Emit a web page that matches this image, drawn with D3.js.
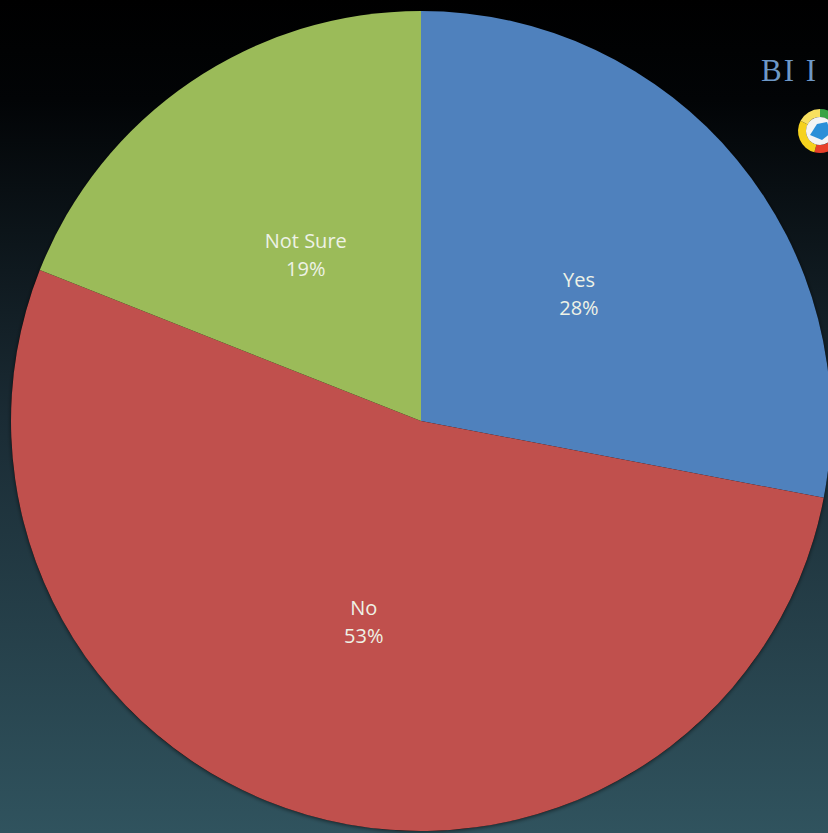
<!DOCTYPE html>
<html>
<head>
<meta charset="utf-8">
<script src="https://cdn.jsdelivr.net/npm/d3@7"></script>
<style>
  html, body { margin: 0; padding: 0; background: #000; overflow: hidden; }
  #vis svg { display: block; }
</style>
</head>
<body>
<div id="vis"></div>
<script>
// survey answers
const categories = ['Yes', 'No', 'Not Sure']
const shares = [28, 53, 19]
const sliceColors = ['#4f81bd', '#c0504d', '#9bbb59']

const width = 828
const height = 833
const cx = 421, cy = 421
const radius = 410

let svg = d3.select('#vis')
    .append('svg')
    .attr('width', width)
    .attr('height', height)

let defs = svg.append('defs')

// dark backdrop fading from black into teal
let bg = defs.append('linearGradient')
    .attr('id', 'bg')
    .attr('x1', 0).attr('y1', 0)
    .attr('x2', 0).attr('y2', 1)
bg.append('stop').attr('offset', '0%').attr('stop-color', '#000000')
bg.append('stop').attr('offset', '12%').attr('stop-color', '#020406')
bg.append('stop').attr('offset', '50%').attr('stop-color', '#1a2b34')
bg.append('stop').attr('offset', '100%').attr('stop-color', '#30535e')

let shadow = defs.append('filter')
    .attr('id', 'shadow')
    .attr('x', '-10%').attr('y', '-10%')
    .attr('width', '120%').attr('height', '120%')
shadow.append('feDropShadow')
    .attr('dx', 0).attr('dy', 1)
    .attr('stdDeviation', 2)
    .attr('flood-color', '#000')
    .attr('flood-opacity', 0.6)

svg.append('rect')
    .attr('width', width)
    .attr('height', height)
    .attr('fill', 'url(#bg)')

// header text in the corner
svg.append('text')
    .attr('x', 761)
    .attr('y', 81)
    .attr('font-family', 'Liberation Serif, serif')
    .attr('font-size', 31)
    .attr('fill', '#6d98c6')
    .attr('letter-spacing', 2)
    .text('BI I')

// little logo ring
let logo = svg.append('g').attr('transform', 'translate(820,131)')
let ringArc = d3.arc().innerRadius(14).outerRadius(22)
const ringParts = [
    { a0: 0, a1: 0.6, c: '#3aa346' },
    { a0: 0.6, a1: 2.2, c: '#f0a020' },
    { a0: 2.2, a1: 3.4, c: '#e8402a' },
    { a0: 3.4, a1: 5.2, c: '#f6d21e' },
    { a0: 5.2, a1: 2 * Math.PI, c: '#f8e060' }
]
logo.selectAll('path.ring')
    .data(ringParts)
    .enter()
    .append('path')
    .attr('class', 'ring')
    .attr('d', d => ringArc({ startAngle: d.a0, endAngle: d.a1 }))
    .attr('fill', d => d.c)
logo.append('circle').attr('r', 14).attr('fill', '#f4f4f4')
logo.append('path')
    .attr('d', 'M-10,4 L-3,-7 L7,-9 L11,2 L2,9 Z')
    .attr('fill', '#2a8fd8')

// the pie itself
let data = categories.map((c, i) => ({ label: c, value: shares[i], color: sliceColors[i] }))

let pie = d3.pie()
    .sort(null)
    .value(d => d.value)

let arc = d3.arc()
    .innerRadius(0)
    .outerRadius(radius)

let labelArc = d3.arc()
    .innerRadius(radius * 0.5)
    .outerRadius(radius * 0.5)

let g = svg.append('g')
    .attr('transform', `translate(${cx},${cy})`)

g.append('circle')
    .attr('r', radius)
    .attr('fill', '#000')
    .attr('filter', 'url(#shadow)')

g.selectAll('path.slice')
    .data(pie(data))
    .enter()
    .append('path')
    .attr('class', 'slice')
    .attr('d', arc)
    .attr('fill', d => d.data.color)

let labels = g.selectAll('text.lbl')
    .data(pie(data))
    .enter()
    .append('text')
    .attr('class', 'lbl')
    .attr('transform', d => `translate(${labelArc.centroid(d)})`)
    .attr('text-anchor', 'middle')
    .attr('font-family', 'Open Sans, Noto Sans, sans-serif')
    .attr('font-size', 20)
    .attr('fill', '#eef2e6')

labels.append('tspan')
    .attr('x', 0)
    .attr('dy', '-0.15em')
    .text(d => d.data.label)

labels.append('tspan')
    .attr('x', 0)
    .attr('dy', '1.4em')
    .text(d => d.data.value + '%')
</script>
</body>
</html>
